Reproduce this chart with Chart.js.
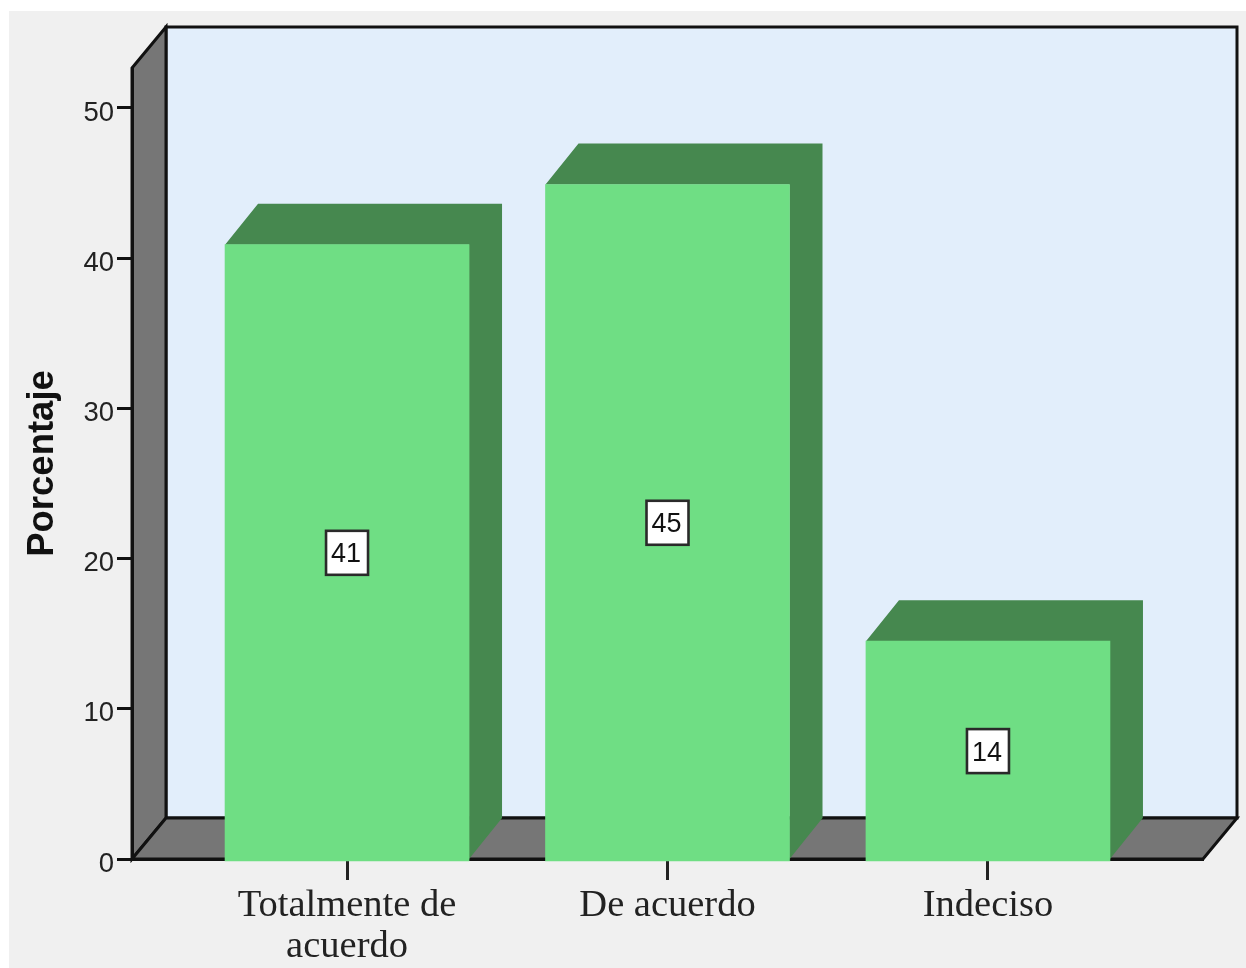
<!DOCTYPE html>
<html>
<head>
<meta charset="utf-8">
<title>Porcentaje</title>
<script src="https://cdn.jsdelivr.net/npm/chart.js@4"></script>
<style>
  html, body { margin: 0; padding: 0; background: #fff; }
  #panel { position: absolute; left: 9px; top: 11px; width: 1237px; height: 957px; background: #f0f0f0; }
  #chart { position: absolute; left: 0; top: 0; filter: blur(0.6px); }
</style>
</head>
<body>
<div id="panel"></div>
<canvas id="chart" width="1246" height="968"></canvas>
<script>
var categories = [["Totalmente de", "acuerdo"], ["De acuerdo"], ["Indeciso"]];
var positions = [1, 2, 3];
var values = [40.9, 44.9, 14.5];
var valueLabels = ["41", "45", "14"];
var yTicks = [0, 10, 20, 30, 40, 50];

var DEPTH_X = 34, DEPTH_Y = 41, BAR_DEPTH_X = 33;

function poly(ctx, pts, fill, stroke) {
  ctx.beginPath();
  ctx.moveTo(pts[0][0], pts[0][1]);
  for (var i = 1; i < pts.length; i++) ctx.lineTo(pts[i][0], pts[i][1]);
  ctx.closePath();
  if (fill) { ctx.fillStyle = fill; ctx.fill(); }
  if (stroke) { ctx.strokeStyle = stroke; ctx.lineWidth = 3; ctx.lineJoin = 'miter'; ctx.stroke(); }
}

// back wall, side wall and floor of the 3D box
var boxPlugin = {
  id: 'box',
  beforeDraw: function(chart) {
    var ctx = chart.ctx, a = chart.chartArea;
    var l = a.left, r = a.right, t = a.top, b = a.bottom;
    ctx.save();
    poly(ctx, [[l + DEPTH_X, t - DEPTH_Y], [r + DEPTH_X, t - DEPTH_Y], [r + DEPTH_X, b - DEPTH_Y], [l + DEPTH_X, b - DEPTH_Y]], '#e2eefb', '#111');
    poly(ctx, [[l, t], [l + DEPTH_X, t - DEPTH_Y], [l + DEPTH_X, b - DEPTH_Y], [l, b]], '#767676', '#111');
    poly(ctx, [[l, b], [l + DEPTH_X, b - DEPTH_Y], [r + DEPTH_X, b - DEPTH_Y], [r, b]], '#767676', '#111');
    ctx.restore();
  },
  beforeDatasetsDraw: function(chart) {
    var ctx = chart.ctx, a = chart.chartArea;
    ctx.save();
    chart.getDatasetMeta(0).data.forEach(function(bar) {
      var L = bar.x - bar.width / 2, R = bar.x + bar.width / 2;
      poly(ctx, [[L, bar.y], [L + BAR_DEPTH_X, bar.y - DEPTH_Y], [R + BAR_DEPTH_X, bar.y - DEPTH_Y],
                 [R + BAR_DEPTH_X, a.bottom - DEPTH_Y], [R, a.bottom], [R, bar.y]], '#46884f');
    });
    ctx.restore();
  },
  afterDatasetsDraw: function(chart) {
    var ctx = chart.ctx, ys = chart.scales.y;
    ctx.save();
    ctx.font = '27px "Liberation Sans"';
    ctx.textAlign = 'center';
    ctx.textBaseline = 'middle';
    chart.getDatasetMeta(0).data.forEach(function(bar, i) {
      var cy = ys.getPixelForValue(values[i] / 2) + 1;
      ctx.fillStyle = '#fff';
      ctx.strokeStyle = '#2a2a2a';
      ctx.lineWidth = 2.6;
      ctx.fillRect(bar.x - 21, cy - 22, 42, 44);
      ctx.strokeRect(bar.x - 21, cy - 22, 42, 44);
      ctx.fillStyle = '#111';
      ctx.fillText(valueLabels[i], bar.x - 1, cy + 2);
    });
    ctx.restore();
  }
};

new Chart(document.getElementById('chart'), {
  type: 'bar',
  data: {
    datasets: [{
      data: positions.map(function(p, i) { return { x: p, y: values[i] }; }),
      backgroundColor: '#6fde84',
      borderWidth: 0,
      barThickness: 244,
      base: -0.13,
      clip: false
    }]
  },
  plugins: [boxPlugin],
  options: {
    responsive: false,
    animation: false,
    layout: { padding: { top: 68, right: 43, left: 0, bottom: 0 } },
    plugins: { legend: { display: false }, tooltip: { enabled: false } },
    scales: {
      x: {
        type: 'linear',
        offset: false,
        min: 0.329,
        max: 3.671,
        afterBuildTicks: function(scale) {
          scale.ticks = positions.map(function(p) { return { value: p }; });
        },
        afterFit: function(scale) { scale.height = 109; },
        border: { color: '#111', width: 3 },
        grid: { offset: false, drawOnChartArea: false, color: '#111', tickColor: '#222', tickWidth: 3, tickLength: 21 },
        ticks: {
          autoSkip: false,
          maxRotation: 0,
          padding: 5,
          color: '#222',
          font: { family: '"Liberation Serif"', size: 38.5, lineHeight: 1.065 },
          callback: function(v) { return categories[v - 1]; }
        }
      },
      y: {
        min: 0,
        max: 52.66,
        afterBuildTicks: function(scale) {
          scale.ticks = yTicks.map(function(v) { return { value: v }; });
        },
        afterFit: function(scale) { scale.width = 132; },
        border: { color: '#111', width: 3 },
        grid: { drawOnChartArea: false, color: '#111', tickColor: '#111', tickWidth: 3, tickLength: 15 },
        ticks: {
          padding: 3,
          labelOffset: 5,
          color: '#222',
          font: { family: '"Liberation Sans"', size: 27.5 }
        },
        title: {
          display: true,
          text: 'Porcentaje',
          color: '#111',
          padding: { top: 21, bottom: 0 },
          font: { family: '"Liberation Sans"', size: 36.5, weight: 'bold', lineHeight: 1.2 }
        }
      }
    }
  }
});
</script>
</body>
</html>
